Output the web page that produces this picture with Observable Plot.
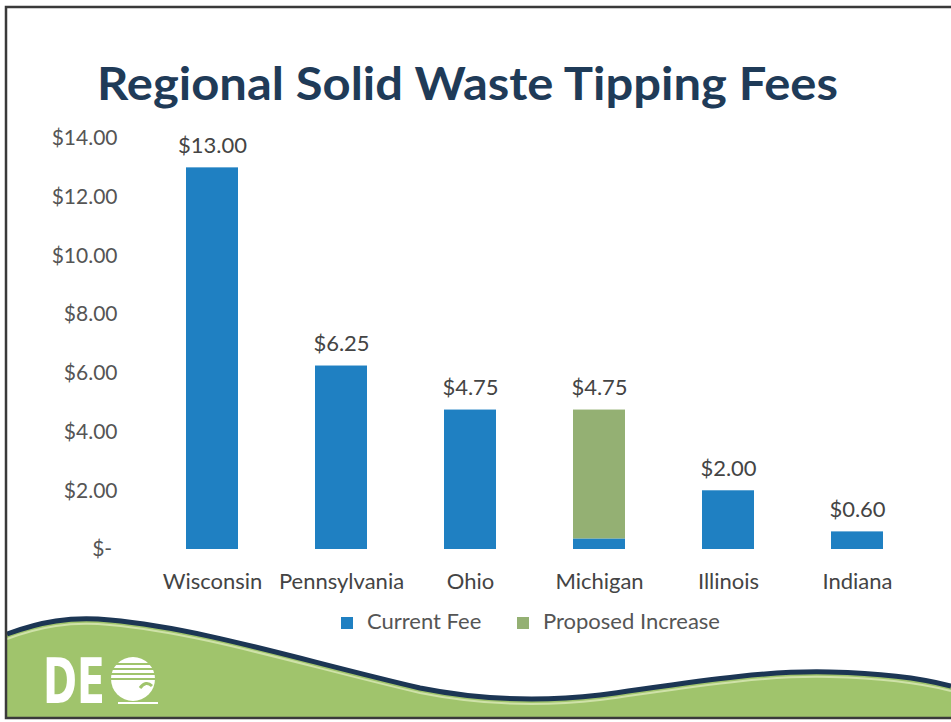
<!DOCTYPE html>
<html><head><meta charset="utf-8">
<script src="https://cdn.jsdelivr.net/npm/d3@7"></script>
<script src="https://cdn.jsdelivr.net/npm/@observablehq/plot@0.6"></script>
<style>
html,body{margin:0;padding:0;background:#fff;}
#page{position:relative;width:951px;height:722px;overflow:hidden;font-family:Lato,"Open Sans",sans-serif;}
#page > svg{position:absolute;left:0;top:0;}
</style></head>
<body><div id="page"></div>
<script>
// ---- data ----
const states = ["Wisconsin","Pennsylvania","Ohio","Michigan","Illinois","Indiana"];
const currentFee = [13.00, 6.25, 4.75, 0.36, 2.00, 0.60];
const proposedIncrease = [0, 0, 0, 4.39, 0, 0];
const seriesNames = ["Current Fee","Proposed Increase"];
const seriesColors = ["#1f80c2","#94b073"];
const yTicks = [0,2,4,6,8,10,12,14];
const titleText = "Regional Solid Waste Tipping Fees";

const rows = [];
states.forEach((s,i) => {
  if (currentFee[i] > 0) rows.push({state:s, series:seriesNames[0], value:currentFee[i]});
  if (proposedIncrease[i] > 0) rows.push({state:s, series:seriesNames[1], value:proposedIncrease[i]});
});
const totals = states.map((s,i) => ({state:s, total:+(currentFee[i]+proposedIncrease[i]).toFixed(2)}));
const money = v => v === 0 ? "$-\u00a0" : "$" + v.toFixed(2);

const page = d3.select("#page");
const W = 951, H = 722;

// ---- background decoration (frame, wave, logo) ----
const deco = page.append("svg").attr("width", W).attr("height", H);
const wave = "M7,634 C40,622 70,616 110,620 C200,628 300,660 420,688 C480,700 540,702 600,695 C680,684 760,670 830,672 C880,673 920,678 951,686";
deco.append("path").attr("d", wave + " L951,718 L7,718 Z").attr("fill", "#a0c46c");
deco.append("path").attr("d", wave).attr("fill","none").attr("stroke","#cfe2a8").attr("stroke-width",2).attr("transform","translate(0,5)");
deco.append("path").attr("d", wave).attr("fill","none").attr("stroke","#1c3654").attr("stroke-width",5);
deco.append("path").attr("d","M951,7 L6,7 L6,718 L951,718").attr("fill","none").attr("stroke","#3a3a3a").attr("stroke-width",2.5);
const logo = deco.append("g");
logo.append("text").attr("x",43).attr("y",703).attr("textLength",62).attr("lengthAdjust","spacingAndGlyphs")
  .attr("font-family","DejaVu Sans").attr("font-weight","bold").attr("font-size",62).attr("fill","#fff").text("DE");
logo.append("circle").attr("cx",133).attr("cy",679).attr("r",22).attr("fill","#fff");
[664,669,674,679].forEach(y => logo.append("line").attr("x1",110).attr("x2",156).attr("y1",y).attr("y2",y).attr("stroke","#a0c46c").attr("stroke-width",1.8));
logo.append("path").attr("d","M140,688 q6,-8 12,-2").attr("fill","none").attr("stroke","#a0c46c").attr("stroke-width",3);
logo.append("line").attr("x1",118).attr("x2",158).attr("y1",703).attr("y2",703).attr("stroke","#fff").attr("stroke-width",2);

// ---- chart ----
const chart = Plot.plot({
  width: W, height: H,
  marginTop: 138, marginBottom: 173, marginLeft: 119, marginRight: 2,
  style: {background: "transparent", fontFamily: "Lato, 'Open Sans', sans-serif", fontSize: "21px"},
  x: {domain: states, paddingInner: 0.6, paddingOuter: 0.5, label: null},
  y: {domain: [0,14], label: null},
  color: {domain: seriesNames, range: seriesColors},
  marks: [
    Plot.axisX({tickSize: 0, tickPadding: 24, fill: "#444", fontSize: 22, label: null}),
    Plot.axisY({ticks: yTicks, tickSize: 0, tickPadding: 2, tickFormat: money, fill: "#555", fontSize: 21, label: null}),
    Plot.barY(rows, {x: "state", y: "value", fill: "series"}),
    Plot.text(totals, {x: "state", y: "total", text: d => money(d.total), dy: -22, fill: "#444", fontSize: 22})
  ]
});
page.node().appendChild(chart);

// ---- title and legend ----
const overlay = page.append("svg").attr("width", W).attr("height", H).style("pointer-events","none");
overlay.append("text").attr("x",97).attr("y",100).attr("textLength",741).attr("lengthAdjust","spacingAndGlyphs")
  .attr("font-family","Lato, 'Open Sans', sans-serif").attr("font-weight","bold").attr("font-size",46)
  .attr("fill","#1f3b58").text(titleText);
const legendPos = [{sx:341, tx:367},{sx:517, tx:543}];
seriesNames.forEach((name,i) => {
  overlay.append("rect").attr("x",legendPos[i].sx).attr("y",617).attr("width",12).attr("height",12).attr("fill",seriesColors[i]);
  overlay.append("text").attr("x",legendPos[i].tx).attr("y",629).attr("font-family","Lato, 'Open Sans', sans-serif")
    .attr("font-size",22).attr("fill","#555").text(name);
});
</script>
</body></html>
